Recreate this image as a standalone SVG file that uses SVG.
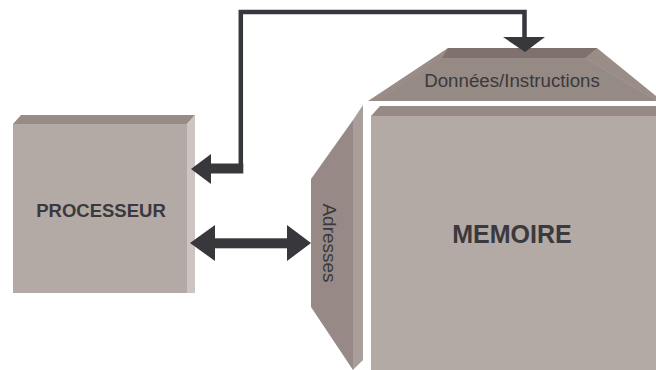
<svg xmlns="http://www.w3.org/2000/svg" width="656" height="370" viewBox="0 0 656 370">
<style>
.lbl{font-family:"Liberation Sans",Arial,sans-serif;fill:#3a393d}
.b{font-weight:bold}
.front{fill:#b3a9a5}
.conn{fill:#38373c}
.line{fill:none;stroke:#38373c;stroke-width:4.5;stroke-linejoin:miter}
</style>
<rect width="656" height="370" fill="#ffffff"/>
<g id="donnees">
<polygon points="368,101 448,48 597,48 662,101" fill="#9a8d88"/>
<polygon points="448,48 597,48 585,58 442,58" fill="#7f716d"/>
<polygon points="378,101 442,58 585,58 656,100 656,101" fill="#968a85"/>
<line x1="585" y1="58" x2="656" y2="100" stroke="#b5aaa6" stroke-width="0.6" stroke-dasharray="1,1"/>
<text class="lbl" x="512" y="87" font-size="18.7" text-anchor="middle">Données/Instructions</text>
</g>
<g id="processeur">
<polygon points="13,124 21,115 195,115 187,124" fill="#998b86"/>
<polygon points="187,124 195,115 195,293 187,293" fill="#cdc5c2"/>
<rect class="front" x="13" y="124" width="174" height="169"/>
<text class="lbl b" x="101" y="217" font-size="18.5" text-anchor="middle">PROCESSEUR</text>
</g>
<g id="memoire">
<polygon points="371,116 380,106 656,106 656,116" fill="#978a85"/>
<rect class="front" x="371" y="116" width="285" height="254"/>
<text class="lbl b" x="512" y="243" font-size="25" text-anchor="middle">MEMOIRE</text>
</g>
<g id="adresses">
<polygon points="311,179 353,120 353,370 311,307" fill="#978a86"/>
<polygon points="353,120 363,105 363,360 353,370" fill="#a99e9a"/>
<text class="lbl" transform="translate(323,243) rotate(90)" font-size="19" text-anchor="middle">Adresses</text>
</g>
<g id="connectors">
<polyline class="line" points="240.8,168 240.8,12 524.5,12 524.5,40"/>
<polygon class="conn" points="503,37 545,37 525,52"/>
<rect class="conn" x="210" y="163.5" width="33.3" height="10"/>
<polygon class="conn" points="191,169 211,154 211,184"/>
<rect class="conn" x="214" y="238.3" width="74" height="10"/>
<polygon class="conn" points="190,243 215,225 215,261"/>
<polygon class="conn" points="311,243 287,225 287,261"/>
</g>
</svg>
